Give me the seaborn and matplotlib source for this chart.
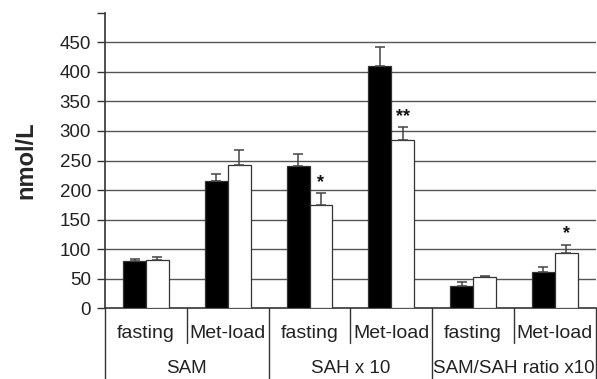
import numpy as np
import pandas as pd
import matplotlib
matplotlib.use("Agg")
import matplotlib.pyplot as plt
import seaborn as sns

# ── DATA ────────────────────────────────────────────────────
groups = ["SAM", "SAH x 10", "SAM/SAH ratio x10"]
conditions = ["fasting", "Met-load"]
categories = ["SAM fasting", "SAM Met-load", "SAH fasting", "SAH Met-load",
              "Ratio fasting", "Ratio Met-load"]
series = ["A", "B"]
values_a = [80, 215, 241, 410, 38, 61]
values_b = [82, 242, 175, 285, 53, 94]
err_a = [4, 12, 20, 33, 6, 9]
err_b = [5, 26, 20, 21, 2, 13]
stars = ["", "", "*", "**", "", "*"]

sns.set_style("white")
plt.rcParams["font.family"] = ["Liberation Sans", "DejaVu Sans"]

df = pd.DataFrame({
    "category": categories * 2,
    "series": [series[0]] * 6 + [series[1]] * 6,
    "value": values_a + values_b,
})

fig = plt.figure(figsize=(5.97, 3.79), dpi=100)
ax = fig.add_axes([0.176, 0.187, 0.822, 0.779])

sns.barplot(data=df, x="category", y="value", hue="series", order=categories,
            hue_order=series, palette=["black", "white"], width=0.56,
            edgecolor="#333333", linewidth=0.9, errorbar=None, legend=False,
            ax=ax, zorder=3)

# error bars (upper only) + significance stars
grey = "#444444"
bars_a = ax.patches[:6]
bars_b = ax.patches[6:12]
for bars, vals, errs in [(bars_a, values_a, err_a), (bars_b, values_b, err_b)]:
    xs = [b.get_x() + b.get_width() / 2 for b in bars]
    ax.errorbar(xs, vals, yerr=[np.zeros(len(errs)), errs], fmt="none",
                ecolor=grey, elinewidth=1.1, capsize=3.5, capthick=1.1, zorder=4)
for b, v, e, s in zip(bars_b, values_b, err_b, stars):
    if s:
        ax.text(b.get_x() + b.get_width() / 2, v + e + 4, s, ha="center",
                va="bottom", fontsize=13, fontweight="bold", color="#111111")

ax.set_xlim(-0.5, 5.5)
ax.set_ylim(0, 500)
ax.set_yticks(range(0, 501, 50))
ax.set_yticklabels([str(t) for t in range(0, 451, 50)] + [""])
ax.tick_params(axis="y", length=6, width=1, color="#333333", labelsize=13.5,
               labelcolor="#222222", left=True, pad=4)
ax.set_xticks([])
ax.set_xlabel("")
ax.set_ylabel("nmol/L", fontsize=17, fontweight="bold", labelpad=16)

for t in range(50, 451, 50):
    ax.axhline(t, color="#555555", linewidth=1, zorder=1)

for side in ["top", "right"]:
    ax.spines[side].set_visible(False)
for side in ["left", "bottom"]:
    ax.spines[side].set_color("#333333")
    ax.spines[side].set_linewidth(1.2)

# multi-level category axis
trans = ax.get_xaxis_transform()
for i, cat in enumerate(categories):
    ax.text(i, -0.085, conditions[i % 2], transform=trans, ha="center",
            va="center", fontsize=14, color="#222222")
for g, name in enumerate(groups):
    ax.text(2 * g + 0.5, -0.205, name, transform=trans, ha="center",
            va="center", fontsize=13.5, color="#222222")
for x in [0.5, 2.5, 4.5]:
    ax.plot([x, x], [0, -0.119], transform=trans, color="#333333",
            linewidth=1, clip_on=False)
for x in [-0.5, 1.5, 3.5, 5.5]:
    ax.plot([x, x], [0, -0.245], transform=trans, color="#333333",
            linewidth=1, clip_on=False)

plt.savefig("out.png", dpi=100)
